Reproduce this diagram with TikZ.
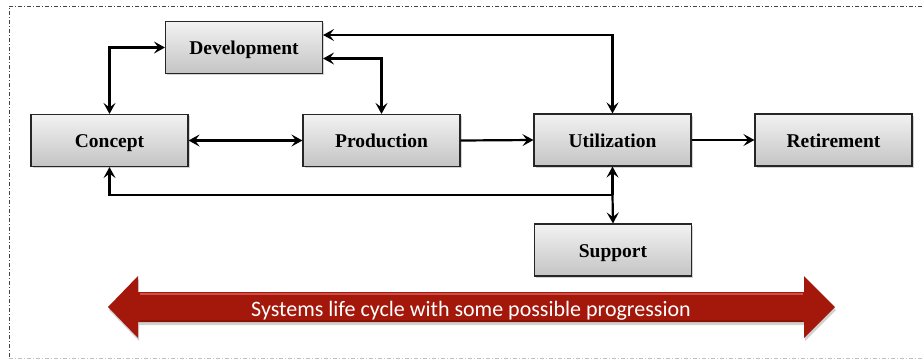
\documentclass[tikz,border=0pt]{standalone}
\usepackage{fontspec}
\newfontfamily\boxfont{Liberation Serif}
\newfontfamily\bandfont{Carlito}
\usetikzlibrary{arrows.meta,shadows}
\definecolor{boxtop}{HTML}{F2F2F2}
\definecolor{boxbot}{HTML}{C4C4C4}
\definecolor{bandred}{HTML}{A3180B}
\definecolor{bandlight}{HTML}{CF4E46}
\definecolor{banddark}{HTML}{8A1206}
\definecolor{framegray}{HTML}{444444}
\tikzset{
  stagebox/.style={rectangle, draw=black!85, line width=1.1pt, top color=boxtop, bottom color=boxbot,
    minimum width=157pt, minimum height=52pt, inner sep=0pt,
    text height=14pt, text depth=-1pt,
    font=\boxfont\bfseries\fontsize{19.5pt}{22pt}\selectfont,
    drop shadow={shadow xshift=1.6pt, shadow yshift=-1.6pt, opacity=0.35}},
  conn/.style={line width=2.2pt, black},
  tip/.style={-{Stealth[length=11pt,width=12pt,inset=4.5pt]}},
  tips/.style={{Stealth[length=11pt,width=12pt,inset=4.5pt]}-{Stealth[length=11pt,width=12pt,inset=4.5pt]}},
  frameline/.style={line width=0.9pt, dash pattern=on 4pt off 2pt on 1pt off 2pt}
}
\begin{document}
\begin{tikzpicture}[x=1pt,y=-1pt]
\useasboundingbox (0,0) rectangle (922,360);
% frame
\draw[frameline, framegray] (940,6) -- (9,6) -- (9,358);
\draw[frameline, black!25] (9,358) -- (940,358);
% boxes
\node[stagebox] (dev) at (244,47.5) {Development};
\node[stagebox] (concept) at (109.5,140.5) {Concept};
\node[stagebox] (prod) at (381.5,140.5) {Production};
\node[stagebox] (util) at (612.5,140) {Utilization};
\node[stagebox] (retire) at (833.5,140) {Retirement};
\node[stagebox] (support) at (613,250) {Support};
% connectors
\draw[conn,tips] (concept.north) |- (dev.west);
\draw[conn,tips] ([yshift=12.5pt]dev.east) -| (util.north);
\draw[conn,tips] ([yshift=-11pt]dev.east) -| (prod.north);
\draw[conn,tips] (concept.east) -- (prod.west);
\draw[conn,tip] (prod.east) -- (util.west);
\draw[conn,tip] (util.east) -- (retire.west);
\coordinate (j) at (612.5,195);
\draw[conn,tip] (j) -| (concept.south);
\draw[conn,tip] (j) -- (util.south);
\draw[conn,tip] (j) -- (support.north);
% red double arrow
\fill[black, opacity=0.18] (109,310) -- (139,279) -- (139,295) -- (805,295) -- (805,279) -- (836,310) -- (805,341) -- (805,325) -- (139,325) -- (139,341) -- cycle;
\path[fill=bandred] (108,307) -- (138,276) -- (138,292) -- (804,292) -- (804,276) -- (835,307) -- (804,338) -- (804,322) -- (138,322) -- (138,338) -- cycle;
\draw[bandlight, line width=2.2pt] (140,294) -- (803,294);
\draw[banddark, line width=1.5pt] (140,321) -- (803,321);
\node[text=white, font=\bandfont\fontsize{22pt}{24pt}\selectfont, inner sep=0pt, text height=14.2pt, text depth=0pt] (band) at (471,309.5) {Systems life cycle with some possible progression};
\end{tikzpicture}
\end{document}
